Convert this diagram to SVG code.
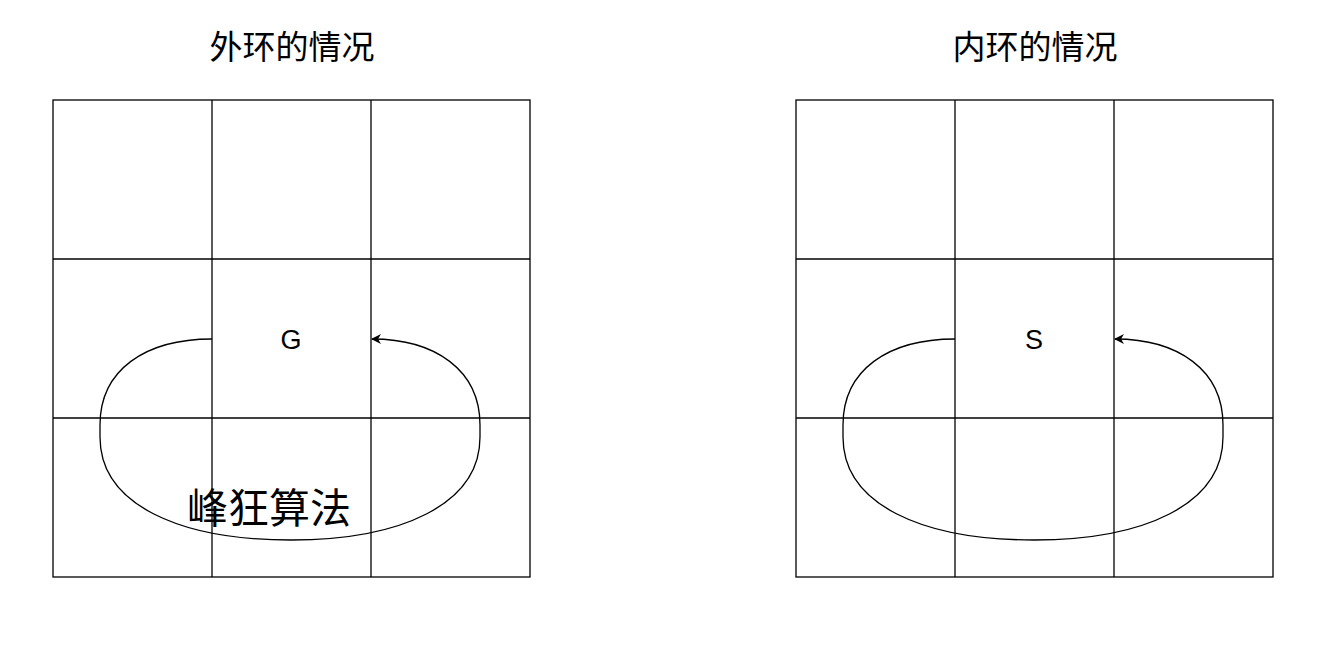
<svg xmlns="http://www.w3.org/2000/svg" width="1344" height="649" viewBox="0 0 1344 649">
<style>
.g{fill:none;stroke:#000;stroke-width:1.3}
.c{fill:none;stroke:#000;stroke-width:1.3}
.t{font-family:"Liberation Sans","Noto Sans CJK SC",sans-serif;fill:#000;text-anchor:middle}
</style>
<defs>
<marker id="ah" viewBox="0 0 10 10" refX="9" refY="5" markerWidth="10" markerHeight="10" markerUnits="userSpaceOnUse" orient="auto">
<path d="M0,0 L10,5 L0,10 L3,5 Z" fill="#000"/>
</marker>
</defs>
<rect width="1344" height="649" fill="#fff"/>
<text class="t" x="292" y="59" font-size="33">外环的情况</text>
<text class="t" x="1035" y="59" font-size="33">内环的情况</text>
<g id="gridLeft">
<rect class="g" x="53" y="100" width="477" height="477"/>
<line class="g" x1="212" y1="100" x2="212" y2="577"/>
<line class="g" x1="371" y1="100" x2="371" y2="577"/>
<line class="g" x1="53" y1="259" x2="530" y2="259"/>
<line class="g" x1="53" y1="418" x2="530" y2="418"/>
</g>
<g id="gridRight">
<rect class="g" x="796" y="100" width="477" height="477"/>
<line class="g" x1="955" y1="100" x2="955" y2="577"/>
<line class="g" x1="1114" y1="100" x2="1114" y2="577"/>
<line class="g" x1="796" y1="259" x2="1273" y2="259"/>
<line class="g" x1="796" y1="418" x2="1273" y2="418"/>
</g>
<g id="nodeG"><text class="t" x="291" y="349" font-size="27">G</text></g>
<g id="nodeS"><text class="t" x="1034" y="349" font-size="27">S</text></g>
<g id="connectors">
<path class="c" marker-end="url(#ah)" d="M212 339 C145 339 100 370 100 425 L100 437 C100 505 180 540 291 540 C400 540 480 505 480 437 L480 425 C480 370 435 339 372 339"/>
<path class="c" marker-end="url(#ah)" d="M955 339 C888 339 843 370 843 425 L843 437 C843 505 923 540 1034 540 C1143 540 1223 505 1223 437 L1223 425 C1223 370 1178 339 1115 339"/>
</g>
<text class="t" x="269" y="523" font-size="41">峰狂算法</text>
</svg>
